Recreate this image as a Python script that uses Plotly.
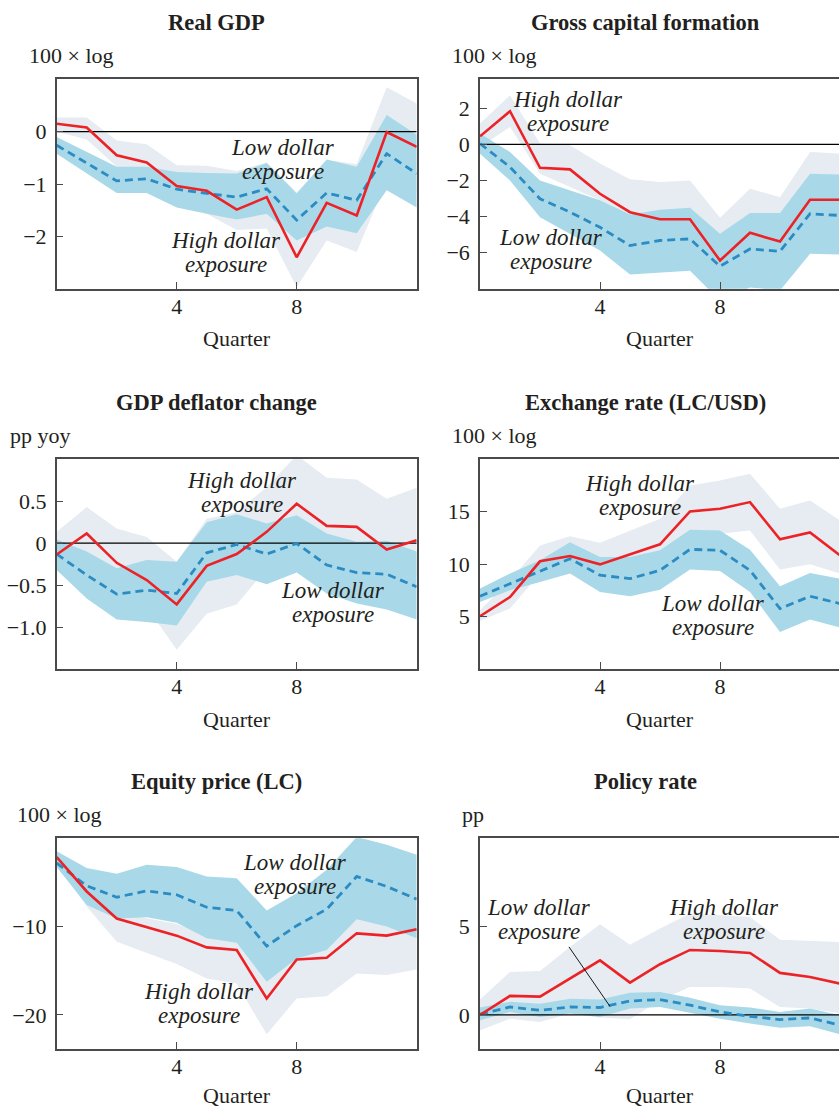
import plotly.graph_objects as go

# Quarters after the shock
quarters = list(range(13))

# Real GDP (100 x log)
gdp_high = [0.15, 0.08, -0.45, -0.59, -1.04, -1.13, -1.49, -1.25, -2.40, -1.36, -1.60, -0.01, -0.29]
gdp_high_hi = [0.27, 0.27, -0.17, -0.24, -0.64, -0.65, -0.75, -0.59, -1.16, -0.54, -0.62, 0.85, 0.54]
gdp_high_lo = [0.0, -0.15, -0.67, -0.93, -1.37, -1.57, -1.88, -1.85, -2.97, -2.08, -2.30, -0.93, -1.18]
gdp_low = [-0.26, -0.60, -0.94, -0.90, -1.10, -1.18, -1.25, -1.09, -1.69, -1.17, -1.31, -0.42, -0.80]
gdp_low_hi = [-0.10, -0.38, -0.67, -0.67, -0.77, -0.79, -0.80, -0.60, -1.18, -0.53, -0.67, 0.32, -0.06]
gdp_low_lo = [-0.42, -0.80, -1.17, -1.17, -1.45, -1.57, -1.68, -1.57, -2.08, -1.81, -1.94, -1.12, -1.45]

# Gross capital formation (100 x log)
gcf_high = [0.44, 1.83, -1.30, -1.39, -2.74, -3.76, -4.15, -4.15, -6.44, -4.90, -5.39, -3.07, -3.07]
gcf_high_hi = [1.15, 2.72, 0.04, -0.06, -1.07, -1.94, -2.09, -2.00, -4.07, -2.46, -2.93, -0.43, -0.52]
gcf_high_lo = [-0.15, 0.96, -1.63, -2.37, -3.10, -3.94, -4.22, -4.31, -8.67, -6.63, -7.19, -5.33, -5.33]
gcf_low = [0.04, -1.26, -3.02, -3.76, -4.60, -5.61, -5.33, -5.24, -6.76, -5.80, -5.93, -3.85, -3.94]
gcf_low_hi = [0.60, -0.43, -2.00, -2.56, -3.10, -3.89, -3.63, -3.52, -4.96, -3.81, -3.81, -1.63, -1.67]
gcf_low_lo = [-0.52, -2.00, -4.04, -4.96, -5.89, -7.22, -7.09, -7.00, -8.67, -7.93, -8.10, -6.07, -6.11]

# GDP deflator change (pp yoy)
defl_high = [-0.135, 0.115, -0.234, -0.44, -0.73, -0.27, -0.13, 0.135, 0.47, 0.206, 0.194, -0.075, 0.036]
defl_high_hi = [0.135, 0.43, 0.175, 0.075, -0.22, 0.29, 0.37, 0.67, 1.05, 0.78, 0.76, 0.53, 0.66]
defl_high_lo = [-0.20, -0.12, -0.31, -0.76, -1.27, -0.84, -0.73, -0.30, -0.12, -0.25, -0.30, -0.45, -0.40]
defl_low = [-0.13, -0.38, -0.607, -0.56, -0.60, -0.115, -0.016, -0.13, -0.004, -0.26, -0.35, -0.37, -0.52]
defl_low_hi = [0.044, -0.10, -0.30, -0.20, -0.22, 0.25, 0.345, 0.234, 0.333, 0.115, 0.016, 0.028, -0.10]
defl_low_lo = [-0.32, -0.66, -0.91, -0.94, -0.98, -0.46, -0.38, -0.49, -0.35, -0.60, -0.72, -0.79, -0.91]

# Exchange rate, LC/USD (100 x log)
fx_high = [5.03, 6.87, 10.27, 10.78, 9.98, 10.94, 11.89, 15.03, 15.29, 15.92, 12.37, 13.03, 10.84]
fx_high_hi = [5.60, 8.46, 11.79, 12.65, 12.05, 13.22, 14.33, 17.51, 17.98, 18.62, 15.29, 16.08, 14.17]
fx_high_lo = [4.59, 5.76, 9.10, 9.25, 8.46, 9.00, 9.60, 12.59, 12.90, 13.22, 9.48, 9.98, 9.10]
fx_low = [6.94, 8.14, 9.35, 10.52, 8.94, 8.62, 9.41, 11.41, 11.32, 9.41, 5.76, 6.94, 6.24]
fx_low_hi = [7.67, 9.10, 10.37, 12.10, 10.68, 10.68, 11.32, 13.29, 13.22, 11.38, 7.89, 9.16, 8.62]
fx_low_lo = [6.40, 7.51, 8.30, 9.10, 7.35, 6.94, 7.57, 9.48, 9.35, 7.35, 3.54, 4.71, 3.95]

# Equity price, LC (100 x log)
eq_high = [-2.12, -6.02, -9.09, -10.08, -11.02, -12.35, -12.65, -18.14, -13.71, -13.52, -10.76, -11.02, -10.30]
eq_high_hi = [-1.60, -5.45, -8.30, -9.05, -9.70, -10.95, -11.33, -15.30, -11.50, -12.00, -9.05, -9.24, -8.10]
eq_high_lo = [-2.80, -7.73, -11.70, -12.95, -14.24, -15.87, -16.44, -22.20, -18.14, -17.88, -15.30, -15.49, -14.85]
eq_low = [-2.80, -5.38, -6.67, -5.95, -6.40, -7.80, -8.18, -12.20, -9.89, -8.03, -4.32, -5.45, -6.89]
eq_low_hi = [-1.48, -3.37, -4.02, -2.99, -3.26, -4.32, -4.51, -8.18, -6.21, -3.56, 0.15, -0.72, -1.86]
eq_low_lo = [-3.26, -7.54, -9.09, -8.94, -9.55, -11.33, -11.82, -16.25, -13.60, -12.65, -9.17, -10.00, -11.33]

# Policy rate (pp)
pol_high = [0.0, 1.08, 1.04, 2.06, 3.09, 1.83, 2.87, 3.68, 3.62, 3.51, 2.38, 2.15, 1.77]
pol_high_hi = [0.87, 2.43, 2.49, 3.85, 5.13, 3.98, 4.89, 5.74, 5.64, 5.55, 4.26, 4.19, 4.13]
pol_high_lo = [-0.87, -0.21, -0.40, 0.08, -0.15, -0.25, 0.83, 1.58, 1.58, 1.49, 0.45, 0.36, 0.08]
pol_low = [0.04, 0.45, 0.26, 0.45, 0.42, 0.79, 0.87, 0.55, 0.17, -0.08, -0.26, -0.17, -0.58]
pol_low_hi = [0.42, 0.74, 0.64, 0.92, 0.87, 1.25, 1.30, 0.98, 0.55, 0.42, 0.17, 0.36, -0.02]
pol_low_lo = [-0.30, 0.17, -0.11, 0.08, -0.11, 0.36, 0.45, 0.11, -0.21, -0.49, -0.72, -0.64, -1.09]

titles = ["Real GDP", "Gross capital formation", "GDP deflator change",
          "Exchange rate (LC/USD)", "Equity price (LC)", "Policy rate"]
units = ["100 × log", "100 × log", "pp yoy", "100 × log", "100 × log", "pp"]
x_tick_vals = [4, 8]
x_tick_text = ["4", "8"]
y_tick_vals = [[-2, -1, 0], [-6, -4, -2, 0, 2], [-1.0, -0.5, 0, 0.5],
               [5, 10, 15], [-20, -10], [0, 5]]
y_tick_text = [["−2", "−1", "0"], ["−6", "−4", "−2", "0", "2"],
               ["−1.0", "−0.5", "0", "0.5"], ["5", "10", "15"],
               ["−20", "−10"], ["0", "5"]]
y_ranges = [[-3, 1], [-8, 3.6], [-1.5, 1.0], [0, 20], [-23.8, 0], [-1.9, 10]]

series = [
    (gdp_high, gdp_high_lo, gdp_high_hi, gdp_low, gdp_low_lo, gdp_low_hi),
    (gcf_high, gcf_high_lo, gcf_high_hi, gcf_low, gcf_low_lo, gcf_low_hi),
    (defl_high, defl_high_lo, defl_high_hi, defl_low, defl_low_lo, defl_low_hi),
    (fx_high, fx_high_lo, fx_high_hi, fx_low, fx_low_lo, fx_low_hi),
    (eq_high, eq_high_lo, eq_high_hi, eq_low, eq_low_lo, eq_low_hi),
    (pol_high, pol_high_lo, pol_high_hi, pol_low, pol_low_lo, pol_low_hi),
]

# Label anchors: (quarter, value) for "High dollar exposure" and "Low dollar exposure"
high_label_pos = [(5.64, -2.30), (2.94, 1.83), (6.19, 0.60), (5.33, 16.57), (4.75, -18.7), (8.13, 5.4)]
low_label_pos = [(7.53, -0.54), (2.37, -5.85), (9.22, -0.71), (7.76, 5.14), (7.94, -4.13), (1.98, 5.4)]

W, H = 839, 1109
FONT = "Liberation Serif"
INK = "#231f20"
RED = "#ec2227"
BLUE = "#2b8bc3"
BLUE_BAND = "#a9d9e8"
GREY_BAND = "#e6ecf1"
FRAME = "#4a4a4a"

col_px = [(56.7, 416.7), (480.0, 839.0)]
row_px = [(79.3, 288.7), (459.3, 669.0), (838.3, 1048.5)]
quarter_label_gap = [50, 50, 47]
px_per_quarter = 30.0

fig = go.Figure()
annotations = []

for i in range(6):
    r, c = divmod(i, 2)
    k = i + 1
    xa, ya = f"x{k}", f"y{k}"
    x0, x1 = col_px[c]
    top, bot = row_px[r]
    hi_line, hi_lo, hi_hi, lo_line, lo_lo, lo_hi = series[i]

    # confidence bands: high exposure (grey) beneath low exposure (blue)
    for upper, lower, colour in ((hi_hi, hi_lo, GREY_BAND), (lo_hi, lo_lo, BLUE_BAND)):
        fig.add_trace(go.Scatter(x=quarters, y=upper, mode="lines", line=dict(width=0),
                                 xaxis=xa, yaxis=ya, showlegend=False, hoverinfo="skip"))
        fig.add_trace(go.Scatter(x=quarters, y=lower, mode="lines", line=dict(width=0),
                                 fill="tonexty", fillcolor=colour,
                                 xaxis=xa, yaxis=ya, showlegend=False, hoverinfo="skip"))

    # zero reference line above the bands
    yr = y_ranges[i]
    if yr[0] < 0 < yr[1]:
        fig.add_trace(go.Scatter(x=[quarters[0], quarters[-1]], y=[0, 0], mode="lines",
                                 line=dict(color="#000000", width=1.2),
                                 xaxis=xa, yaxis=ya, showlegend=False, hoverinfo="skip"))

    fig.add_trace(go.Scatter(x=quarters, y=lo_line, mode="lines",
                             line=dict(color=BLUE, width=2.8, dash="8px,5px"),
                             xaxis=xa, yaxis=ya, showlegend=False))
    fig.add_trace(go.Scatter(x=quarters, y=hi_line, mode="lines",
                             line=dict(color=RED, width=2.6),
                             xaxis=xa, yaxis=ya, showlegend=False))

    xmax = (x1 - x0) / px_per_quarter
    axis_common = dict(showgrid=False, zeroline=False, showline=True, linecolor=FRAME,
                       linewidth=1.5, ticks="inside", ticklen=7, tickcolor=FRAME,
                       tickwidth=1.2, tickfont=dict(family=FONT, size=22, color=INK))
    fig.update_layout(**{
        f"xaxis{k}": dict(axis_common, domain=[x0 / W, x1 / W], range=[0, xmax],
                          anchor=ya, tickvals=x_tick_vals, ticktext=x_tick_text,
                          mirror=True, ticklabelstandoff=-3),
        f"yaxis{k}": dict(axis_common, domain=[1 - bot / H, 1 - top / H], range=yr,
                          anchor=xa, tickvals=y_tick_vals[i], ticktext=y_tick_text[i],
                          mirror=(c == 0), ticklabelstandoff=4),
    })

    # panel title, unit label and axis title
    title_x = [216, 645][c]
    annotations.append(dict(text=f"<b>{titles[i]}</b>", x=title_x / W, y=1 - (top - 57) / H,
                            xref="paper", yref="paper", showarrow=False,
                            xanchor="center", yanchor="middle",
                            font=dict(family=FONT, size=22.5, color=INK)))
    unit_x = [[27, 450], [8, 450], [15, 460]][r][c]
    annotations.append(dict(text=units[i], x=unit_x / W, y=1 - (top - 24) / H,
                            xref="paper", yref="paper", showarrow=False,
                            xanchor="left", yanchor="middle",
                            font=dict(family=FONT, size=22, color=INK)))
    annotations.append(dict(text="Quarter", x=(x0 + 180) / W,
                            y=1 - (bot + quarter_label_gap[r]) / H,
                            xref="paper", yref="paper", showarrow=False,
                            xanchor="center", yanchor="middle",
                            font=dict(family=FONT, size=22, color=INK)))

    # series labels, one annotation per line of text
    for (qx, qy), first in ((high_label_pos[i], "High dollar"), (low_label_pos[i], "Low dollar")):
        for txt, shift in ((first, 12), ("exposure", -12)):
            annotations.append(dict(text=f"<i>{txt}</i>", x=qx, y=qy, xref=xa, yref=ya,
                                    yshift=shift, showarrow=False,
                                    xanchor="center", yanchor="middle",
                                    font=dict(family=FONT, size=23, color=INK)))

# leader line from the low-exposure label to its series in the policy-rate panel
annotations.append(dict(text="", x=4.33, y=0.49, xref="x6", yref="y6",
                        ax=2.93, ay=3.94, axref="x6", ayref="y6",
                        showarrow=True, arrowhead=0, arrowwidth=0.9,
                        arrowcolor="#000000", standoff=0, startstandoff=0))

fig.update_layout(width=W, height=H, margin=dict(l=0, r=0, t=0, b=0),
                  paper_bgcolor="white", plot_bgcolor="white",
                  annotations=annotations, showlegend=False)

fig.write_html("out.html")
